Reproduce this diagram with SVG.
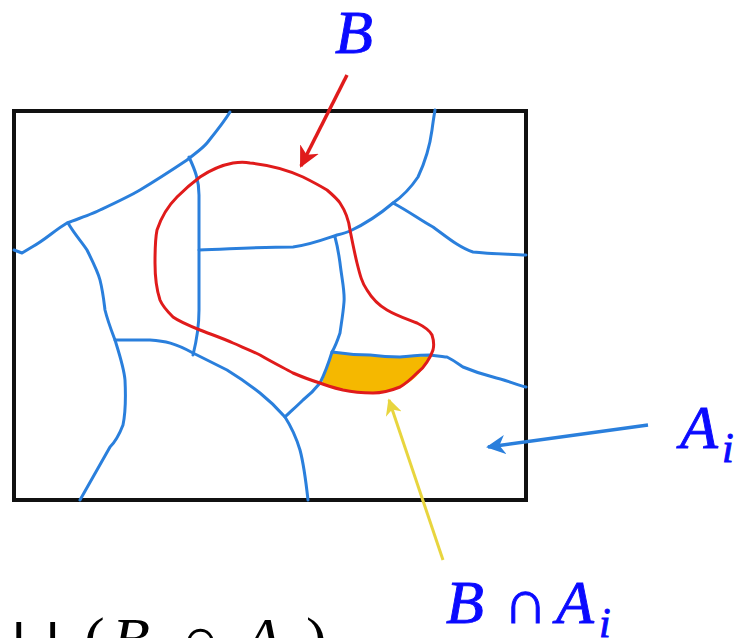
<svg xmlns="http://www.w3.org/2000/svg" width="734" height="638" viewBox="0 0 734 638">
<style>
.frame{fill:none;stroke:#111;stroke-width:4}
.bl{fill:none;stroke:#2a7fdc;stroke-width:3;stroke-linecap:round;stroke-linejoin:round}
.rd{fill:none;stroke:#e01b1b;stroke-width:3;stroke-linejoin:round}
.lbl{font-family:"Liberation Serif","DejaVu Serif",serif;fill:#0a0aff;stroke:#0a0aff;stroke-width:0.9}
.blk{font-family:"Liberation Serif","DejaVu Serif",serif;fill:#000}
.it{font-style:italic}
</style>
<defs>
<marker id="mr" viewBox="0 0 10 10" refX="9" refY="5" markerWidth="6" markerHeight="6" orient="auto" markerUnits="strokeWidth"><path d="M0,0 L10,5 L0,10 L3,5 Z" fill="#e01b1b"/></marker>
<marker id="mb" viewBox="0 0 10 10" refX="9" refY="5" markerWidth="5.5" markerHeight="5.5" orient="auto" markerUnits="strokeWidth"><path d="M0,0 L10,5 L0,10 L3,5 Z" fill="#2a7fdc"/></marker>
<marker id="my" viewBox="0 0 10 10" refX="9" refY="5" markerWidth="5.5" markerHeight="5.5" orient="auto" markerUnits="strokeWidth"><path d="M0,0 L10,5 L0,10 L3,5 Z" fill="#e8d53e"/></marker>
</defs>
<rect width="734" height="638" fill="#fff"/>
<g id="partition">
<path id="yellowRegion" d="M332,352 C350,354 380,357 400,357 C412,357 422,356 429,356 C424,372 410,385 395,389 C380,394 360,392 343,390 C335,388 327,386 322,383 Z" fill="#f5b800"/>
<rect class="frame" x="14" y="111" width="512" height="389"/>
<path class="bl" d="M14,250 L22,253 L32,247 C45,240 55,230 67,223 C80,218 95,213 100,210 C115,203 128,197 140,190 C160,178 175,168 187,160 C197,152 203,148 207,143 C215,133 224,122 230,112"/>
<path class="bl" d="M68,223 C75,235 82,242 87,250 C93,262 98,272 100,280 C103,292 104,302 105,310 C108,322 112,332 115,340 C120,356 124,368 125,380 C126,400 125,415 123,425 C118,438 114,443 110,447 C100,465 90,482 80,500"/>
<path class="bl" d="M189,157 C195,170 199,180 199,195 L199,250 L199,310 C199,330 196,343 193,355"/>
<path class="bl" d="M199,250 C230,249 260,247 293,247 C310,245 325,239 337,235 C345,233 348,232 350,231 C365,224 380,214 393,203 C403,196 412,186 418,177 C426,160 430,145 432,130 C433,122 434,116 435,110"/>
<path class="bl" d="M393,203 C410,212 420,220 433,227 C448,238 460,248 473,252 C490,254 510,254 526,255"/>
<path class="bl" d="M335,237 C338,248 339,256 340,263 C342,280 345,292 344,302 C343,315 341,325 340,333 C337,342 335,347 332,352 C328,365 325,373 320,383 C313,392 308,396 303,400 C296,407 290,412 285,417"/>
<path class="bl" d="M115,340 C130,340 140,340 150,340 C165,341 175,343 193,353 C205,359 215,364 227,370 C240,378 250,385 260,393 C270,401 278,409 285,417 C292,428 297,440 300,450 C304,465 306,482 308,500"/>
<path class="bl" d="M332,352 C345,354 358,355 370,355 C385,357 395,357 400,357 C412,356 422,355 430,355 C440,356 445,357 447,357 C455,361 460,365 463,367 C475,372 485,375 493,377 C505,380 515,384 526,387"/>
</g>
<g id="setB">
<path class="rd" d="M250,163 C270,165 290,171 303,177 C315,183 322,187 327,190 C334,196 338,200 340,203 C346,212 349,222 350,230 C353,245 355,255 357,263 C360,275 362,283 367,290 C373,300 380,306 387,310 C397,316 407,319 417,323 C425,327 430,331 432,335 C434,341 434,346 433,350 C431,356 429,359 427,362 C424,367 421,370 417,373 C410,380 405,384 400,387 C390,391 382,393 373,393 C362,393 352,392 343,390 C335,388 327,386 320,383 C310,380 300,376 293,373 C282,367 270,361 260,355 C250,350 242,347 233,343 C222,338 210,334 200,330 C190,326 180,322 173,317 C166,310 162,305 160,300 C156,288 155,276 155,263 C155,250 155,240 157,230 C161,218 168,206 177,197 C184,190 192,183 200,177 C212,169 222,165 233,163 C240,162 245,162 250,163 Z"/>
</g>
<g id="connectors">
<line x1="347" y1="75" x2="301" y2="166" stroke="#e01b1b" stroke-width="3.5" marker-end="url(#mr)"/>
<line x1="648" y1="425" x2="488" y2="447" stroke="#2a7fdc" stroke-width="3.5" marker-end="url(#mb)"/>
<line x1="443" y1="560" x2="389" y2="400" stroke="#e8d53e" stroke-width="3" marker-end="url(#my)"/>
</g>
<g id="labelB"><text class="lbl it" x="335" y="53" font-size="62">B</text></g>
<g id="labelAi"><text class="lbl it" x="680" y="448" font-size="62">A</text><text class="lbl it" x="722" y="462" font-size="42">i</text></g>
<g id="labelBAi"><text class="lbl it" x="446" y="623" font-size="62">B</text><text class="lbl" x="503" y="623" font-size="62">∩</text><text class="lbl it" x="556" y="623" font-size="62">A</text><text class="lbl it" x="599" y="637" font-size="42">i</text></g>
<g id="formula"><text class="blk" x="10" y="660" font-size="62">∪</text><text class="blk" x="84" y="660" font-size="62">(</text><text class="blk it" x="112" y="660" font-size="62">B</text><text class="blk" x="178" y="660" font-size="62">∩</text><text class="blk it" x="244" y="660" font-size="62">A</text><text class="blk it" x="286" y="675" font-size="42">i</text><text class="blk" x="306" y="660" font-size="62">)</text></g>
</svg>
